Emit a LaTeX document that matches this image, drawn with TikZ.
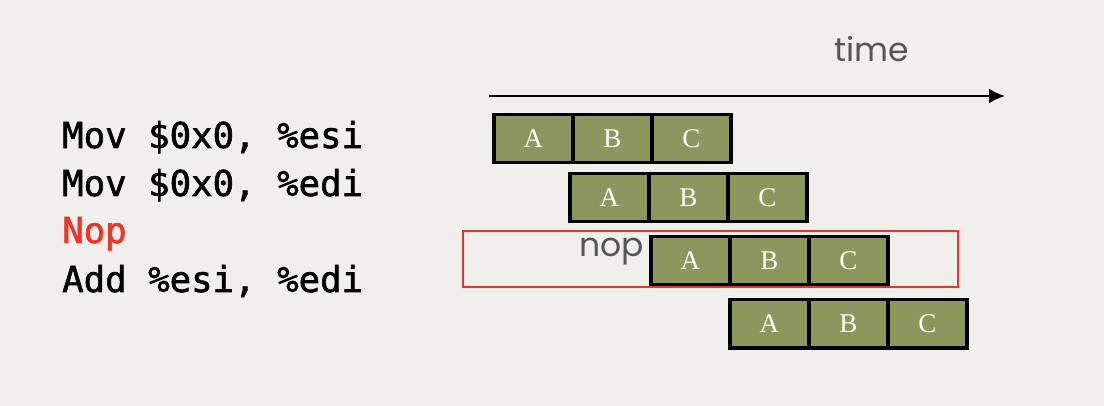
\documentclass[tikz,border=0pt]{standalone}
\usepackage{fontspec}
\usetikzlibrary{arrows.meta}
\setmainfont{Liberation Serif}
\newfontfamily\codefont[FakeBold=1.6]{DejaVu Sans Mono}
\newfontfamily\labelfont{Poppins}
\definecolor{paper}{RGB}{240,239,236}
\definecolor{olive}{RGB}{140,151,94}
\definecolor{nopred}{RGB}{238,52,40}
\definecolor{textgray}{RGB}{85,85,85}
\tikzset{
    stage/.style={draw=black,line width=3.5pt,fill=olive,minimum width=79pt,minimum height=48pt,inner sep=0pt,anchor=north west,text=white,font=\fontsize{27}{27}\selectfont},
    instr/.style={anchor=base west,inner sep=0pt,font=\codefont\fontsize{35.7}{36}\selectfont},
    note/.style={text=textgray,inner sep=0pt,font=\labelfont\fontsize{33}{33}\selectfont}
}
\def\cw{79}

\begin{document}
\begin{tikzpicture}[x=1pt,y=-1pt]
  \fill[paper] (0,0) rectangle (1104,406);
  \useasboundingbox (0,0) rectangle (1104,406);

  % Instructions
  \node[instr] (i1) at (62,148) {Mov \$0x0, \%esi};
  \node[instr] (i2) at (62,196) {Mov \$0x0, \%edi};
  \node[instr,text=nopred] (i3) at (62,243) {Nop};
  \node[instr] (i4) at (62,292) {Add \%esi, \%edi};

  % Time axis
  \coordinate (t0) at (489,96);
  \coordinate (t1) at (1005,96);
  \draw[line width=2.5pt,-{Latex[length=16pt,width=15pt]}] (t0) -- (t1);
  \node[note,anchor=base] (time) at (872,62) {time};

  % Pipeline stages
  \foreach \r/\x/\y in {1/492/113,2/568/172,3/649/235,4/728/298}{
    \node[stage] (A\r) at (\x,\y) {A};
    \node[stage] (B\r) at (\x+\cw,\y) {B};
    \node[stage] (C\r) at (\x+2*\cw,\y) {C};
  }

  % Bubble
  \draw[nopred,line width=2pt] (463,231) rectangle (958,287);
  \node[note,anchor=base east] (nop) at (644,257) {nop};
\end{tikzpicture}
\end{document}
